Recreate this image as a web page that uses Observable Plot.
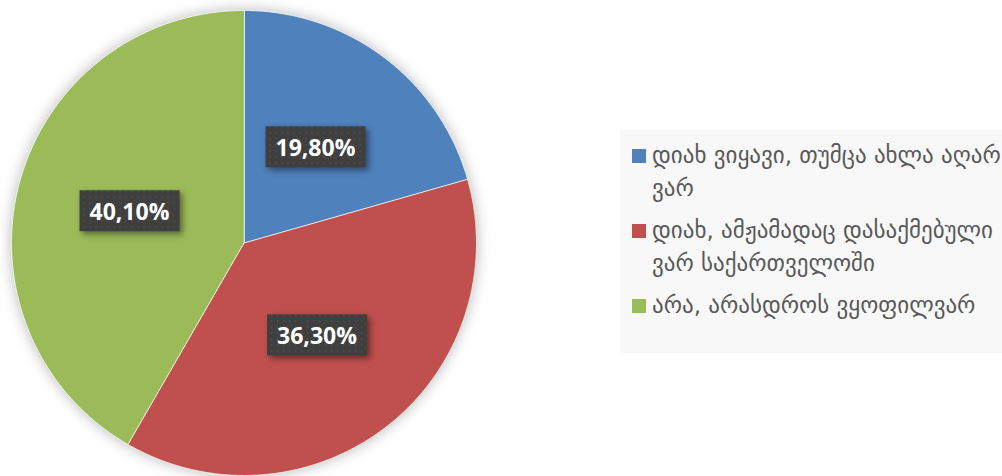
<!DOCTYPE html>
<html>
<head>
<meta charset="utf-8">
<script src="https://cdn.jsdelivr.net/npm/d3@7"></script>
<script src="https://cdn.jsdelivr.net/npm/@observablehq/plot@0.6"></script>
<style>
  html, body { margin: 0; padding: 0; background: #ffffff; }
  #wrap { position: relative; width: 1002px; height: 476px; overflow: hidden; }
  #chart svg { display: block; }
  .pie-slices { filter: drop-shadow(0 0 7px rgba(0,0,0,0.28)); }
  .lbl-box { filter: drop-shadow(3px 3px 3px rgba(0,0,0,0.45)); }
  #legend {
    position: absolute; left: 620px; top: 130px; width: 382px; height: 223px;
    background: #f8f8f8; box-sizing: border-box; padding: 9px 0 0 12px;
    font-family: "DejaVu Sans", sans-serif; font-size: 23px; color: #595959;
  }
  .item { display: flex; align-items: flex-start; margin-bottom: 9px; }
  .sw { width: 14px; height: 14px; flex: none; margin-top: 10px; margin-right: 6px; }
  .txt { line-height: 33px; white-space: pre; }
</style>
</head>
<body>
<div id="wrap">
  <div id="chart"></div>
  <div id="legend"></div>
</div>
<script>
// ---- data ----
const categories = [
  "დიახ ვიყავი, თუმცა ახლა აღარ ვარ",
  "დიახ, ამჟამადაც დასაქმებული ვარ საქართველოში",
  "არა, არასდროს ვყოფილვარ"
];
const legendLines = [
  "დიახ ვიყავი, თუმცა ახლა აღარ\nვარ",
  "დიახ, ამჟამადაც დასაქმებული\nვარ საქართველოში",
  "არა, არასდროს ვყოფილვარ"
];
const values = [19.8, 36.3, 40.1];
const colors = ["#4F81BD", "#C0504D", "#9BBB59"];

// ---- geometry from data ----
const table = categories.map((c, i) => ({key: c, value: values[i]}));
const arcs = d3.pie().sort(null).value(d => d.value)(table);
const slicePts = [];
arcs.forEach(a => {
  const k = a.data.key;
  slicePts.push({key: k, x: 0, y: 0});
  const n = Math.max(2, Math.ceil((a.endAngle - a.startAngle) / 0.005));
  for (let j = 0; j <= n; j++) {
    const t = a.startAngle + (a.endAngle - a.startAngle) * j / n;
    slicePts.push({key: k, x: Math.sin(t), y: Math.cos(t)});
  }
});
const fmt = v => v.toFixed(2).replace(".", ",") + "%";
const labelR = 0.51;
const labels = arcs.map(a => {
  const m = (a.startAngle + a.endAngle) / 2;
  return {key: a.data.key, x: labelR * Math.sin(m), y: labelR * Math.cos(m), text: fmt(a.data.value)};
});

const plot = Plot.plot({
  width: 1002, height: 476,
  margin: 0,
  x: {domain: [-1, 1], range: [11, 476], axis: null},
  y: {domain: [-1, 1], range: [475, 10], axis: null},
  color: {domain: categories, range: colors},
  marks: [
    Plot.line(slicePts, {x: "x", y: "y", z: "key", fill: "key", stroke: "#ffffff", strokeWidth: 0.8,
      curve: "linear-closed", className: "pie-slices"}),
    Plot.text(labels, {x: "x", y: "y", text: "text", fill: "#ffffff", fontSize: 23, fontWeight: "bold",
      fontFamily: "Open Sans, sans-serif", className: "pie-labels"})
  ]
});
document.getElementById("chart").appendChild(plot);

// label boxes with dotted dark pattern
const svg = d3.select(plot);
const defs = svg.insert("defs", ":first-child");
const pat = defs.append("pattern").attr("id", "dots").attr("width", 6).attr("height", 6)
  .attr("patternUnits", "userSpaceOnUse");
pat.append("rect").attr("width", 6).attr("height", 6).attr("fill", "#3f3f3f");
pat.append("rect").attr("x", 2).attr("y", 2).attr("width", 1.2).attr("height", 1.2).attr("fill", "#575757");
svg.selectAll(".pie-labels text").each(function() {
  const b = this.getBBox();
  const padX = 10, h = 41;
  const cy = b.y + b.height / 2;
  const r = d3.select(this.parentNode).insert("rect", () => this)
    .attr("class", "lbl-box")
    .attr("x", b.x - padX).attr("y", cy - h / 2)
    .attr("width", b.width + 2 * padX).attr("height", h)
    .attr("fill", "url(#dots)");
  const tr = this.getAttribute("transform");
  if (tr) r.attr("transform", tr);
});

// legend
const legend = d3.select("#legend");
categories.forEach((c, i) => {
  const it = legend.append("div").attr("class", "item");
  it.append("div").attr("class", "sw").style("background", colors[i]);
  it.append("div").attr("class", "txt").text(legendLines[i]);
});
</script>
</body>
</html>
